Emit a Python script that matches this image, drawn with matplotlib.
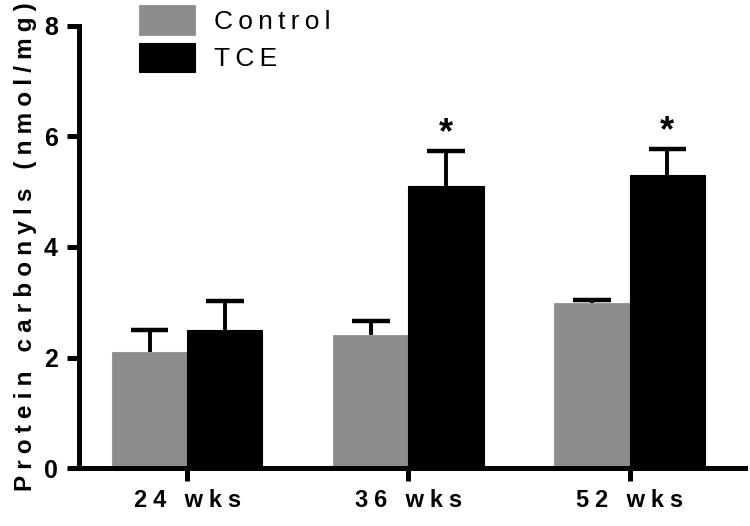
import numpy as np
import matplotlib.pyplot as plt

groups = ['24 wks', '36 wks', '52 wks']
control = [2.10, 2.41, 2.99]
control_err = [0.40, 0.25, 0.05]
tce = [2.49, 5.10, 5.30]
tce_err = [0.53, 0.63, 0.47]
signif = ['', '*', '*']

plt.rcParams['font.family'] = ['Liberation Sans', 'DejaVu Sans']


def spaced(s, sep='\u2009'):
    return sep.join(s)


fig = plt.figure(figsize=(7.5, 5.26), dpi=100)
ax = fig.add_axes([0.105, 0.110, 0.888, 0.841])

x = np.arange(len(groups))
w = 0.34
cap = 0.085
ax.bar(x - w / 2, control, w, color='#8c8c8c', edgecolor='#9a9a9a', linewidth=0.8,
       label='Control', zorder=2)
ax.bar(x + w / 2, tce, w, color='black', edgecolor='black', linewidth=0.8,
       label='TCE', zorder=2)

# upward-only error bars
for xs, vals, errs in [(x - w / 2, control, control_err), (x + w / 2, tce, tce_err)]:
    tops = np.array(vals) + np.array(errs)
    ax.vlines(xs, vals, tops, color='black', linewidth=2.8, zorder=1)
    ax.hlines(tops, xs - cap, xs + cap, color='black', linewidth=3.2, zorder=1)

for i in range(len(groups)):
    if signif[i]:
        ax.text(x[i] + w / 2, tce[i] + tce_err[i] + 0.0, signif[i], ha='center',
                va='bottom', fontsize=26, fontweight='bold')

ax.set_xlim(-0.49, 2.52)
ax.set_ylim(0, 8)
ax.set_yticks([0, 2, 4, 6, 8])
ax.set_xticks(x)
ax.set_xticklabels([spaced(g, '\u2005') for g in groups], fontsize=17, fontweight='bold')
for lbl in ax.get_yticklabels():
    lbl.set_fontsize(18)
    lbl.set_fontweight('bold')

for s in ['top', 'right']:
    ax.spines[s].set_visible(False)
for s in ['left', 'bottom']:
    ax.spines[s].set_linewidth(3.6)
ax.tick_params(axis='both', width=3.6, length=9, pad=6)

ax.set_ylabel(spaced('Protein carbonyls (nmol/mg)', '\u2005'), fontsize=17.5,
              fontweight='bold', labelpad=5)

leg = ax.legend(loc='upper left', bbox_to_anchor=(0.055, 1.10), frameon=False,
                fontsize=19, handlelength=2.1, handleheight=1.35,
                labelspacing=0.3, handletextpad=0.75)
for t in leg.get_texts():
    t.set_text(spaced(t.get_text()))

fig.savefig('out.png', dpi=100)
